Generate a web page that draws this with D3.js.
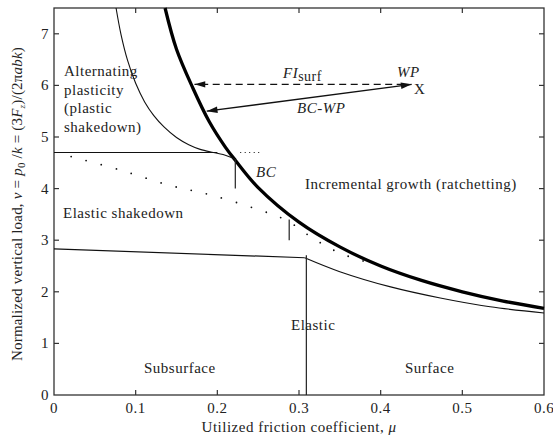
<!DOCTYPE html>
<html>
<head>
<meta charset="utf-8">
<script src="https://cdn.jsdelivr.net/npm/d3@7"></script>
<style>
  body { margin: 0; background: #fff; }
  svg text { font-family: "Liberation Serif", "DejaVu Serif", serif; fill: #222; letter-spacing: 0.5px; }
  .frame { fill: none; stroke: #333; stroke-width: 1.3; }
  .tick { stroke: #333; stroke-width: 1.2; }
</style>
</head>
<body>
<div id="chart"></div>
<script>
// axis ticks
const xTicks = [0, 0.1, 0.2, 0.3, 0.4, 0.5, 0.6];
const yTicks = [0, 1, 2, 3, 4, 5, 6, 7];

// thick curve: surface ratchetting limit (mu, v)
const ratchetLimit = [
    [0.136, 7.5], [0.15, 6.7], [0.17, 5.95], [0.19, 5.3], [0.21, 4.8],
    [0.222, 4.55], [0.25, 4.02], [0.3, 3.35], [0.35, 2.87], [0.4, 2.5],
    [0.45, 2.22], [0.5, 2.0], [0.55, 1.82], [0.6, 1.68]
];

// thin curve: alternating plasticity limit
const plasticLimit = [
    [0.076, 7.5], [0.082, 6.99], [0.09, 6.49], [0.1, 6.04], [0.111, 5.68],
    [0.122, 5.42], [0.135, 5.19], [0.15, 4.99], [0.165, 4.85], [0.179, 4.76],
    [0.195, 4.7], [0.207, 4.66], [0.222, 4.57]
];

// elastic limit: straight subsurface part, then surface curve
const elasticFlat = [[0, 2.83], [0.307, 2.66]];
const elasticCurve = [
    [0.307, 2.66], [0.35, 2.39], [0.411, 2.1], [0.473, 1.88],
    [0.534, 1.71], [0.6, 1.59]
];

// elastic shakedown limit (dotted)
const shakedownDots = [
    [0.021, 4.62], [0.081, 4.36], [0.14, 4.07], [0.191, 3.88], [0.247, 3.61],
    [0.284, 3.39], [0.317, 3.04], [0.35, 2.75], [0.387, 2.56]
];

// horizontal subsurface plastic shakedown line
const plasticLevel = [[0, 4.7], [0.2, 4.7]];
const plasticLevelDots = [[0.228, 4.7], [0.255, 4.7]];

// vertical markers: mu, from v, to v
const markers = [
    [0.222, 4.0, 4.57],
    [0.288, 3.0, 3.4],
    [0.309, 0, 2.71]
];

// working point and arrows
const workPoint = [0.438, 6.02];
const fiSurfEnd = [0.172, 6.02];
const bcWpEnd = [0.187, 5.5];

const W = 553, H = 439;
const margin = { top: 8, right: 9, bottom: 44, left: 54 };

const x = d3.scaleLinear().domain([0, 0.6]).range([margin.left, W - margin.right]);
const y = d3.scaleLinear().domain([0, 7.5]).range([H - margin.bottom, margin.top]);

const svg = d3.select("#chart").append("svg")
    .attr("width", W)
    .attr("height", H);

svg.append("defs").append("marker")
    .attr("id", "arrow")
    .attr("viewBox", "0 -5 12 10")
    .attr("refX", 12)
    .attr("refY", 0)
    .attr("markerUnits", "userSpaceOnUse")
    .attr("markerWidth", 13)
    .attr("markerHeight", 9)
    .attr("orient", "auto-start-reverse")
    .append("path")
    .attr("d", "M0,-3.6L12,0L0,3.6Z")
    .attr("fill", "#111");

const line = d3.line().x(d => x(d[0])).y(d => y(d[1]));
const smooth = d3.line().x(d => x(d[0])).y(d => y(d[1])).curve(d3.curveCatmullRom.alpha(0.5));

// frame
svg.append("rect")
    .attr("class", "frame")
    .attr("x", x(0)).attr("y", y(7.5))
    .attr("width", x(0.6) - x(0)).attr("height", y(0) - y(7.5));

// inward ticks on all four sides
const tl = 5;
xTicks.slice(1, -1).forEach(t => {
    svg.append("line").attr("class", "tick")
        .attr("x1", x(t)).attr("x2", x(t)).attr("y1", y(0)).attr("y2", y(0) - tl);
    svg.append("line").attr("class", "tick")
        .attr("x1", x(t)).attr("x2", x(t)).attr("y1", y(7.5)).attr("y2", y(7.5) + tl);
});
yTicks.slice(1).forEach(t => {
    svg.append("line").attr("class", "tick")
        .attr("x1", x(0)).attr("x2", x(0) + tl).attr("y1", y(t)).attr("y2", y(t));
    svg.append("line").attr("class", "tick")
        .attr("x1", x(0.6)).attr("x2", x(0.6) - tl).attr("y1", y(t)).attr("y2", y(t));
});

// tick labels
svg.append("g").selectAll("text")
    .data(xTicks)
    .enter().append("text")
    .attr("x", d => x(d))
    .attr("y", y(0) + 18)
    .attr("text-anchor", "middle")
    .attr("font-size", 15)
    .text(d => d === 0 ? "0" : d3.format(".1f")(d));

svg.append("g").selectAll("text")
    .data(yTicks)
    .enter().append("text")
    .attr("x", x(0) - 5)
    .attr("y", d => y(d) + 5)
    .attr("text-anchor", "end")
    .attr("font-size", 15)
    .text(d => d);

// curves
svg.append("path").datum(ratchetLimit)
    .attr("d", smooth).attr("fill", "none").attr("stroke", "#000").attr("stroke-width", 3.3);

svg.append("path").datum(plasticLimit)
    .attr("d", smooth).attr("fill", "none").attr("stroke", "#111").attr("stroke-width", 1.1);

svg.append("path").datum(elasticFlat)
    .attr("d", line).attr("fill", "none").attr("stroke", "#111").attr("stroke-width", 1.2);

svg.append("path").datum(elasticCurve)
    .attr("d", smooth).attr("fill", "none").attr("stroke", "#111").attr("stroke-width", 1.1);

svg.append("path").datum(shakedownDots)
    .attr("d", smooth).attr("fill", "none").attr("stroke", "#111")
    .attr("stroke-width", 1.8).attr("stroke-linecap", "round")
    .attr("stroke-dasharray", "0,15.6");

svg.append("path").datum(plasticLevel)
    .attr("d", line).attr("fill", "none").attr("stroke", "#111").attr("stroke-width", 1.2);

svg.append("path").datum(plasticLevelDots)
    .attr("d", line).attr("fill", "none").attr("stroke", "#111")
    .attr("stroke-width", 1.2).attr("stroke-dasharray", "1,3.5");

svg.append("g").selectAll("line")
    .data(markers)
    .enter().append("line")
    .attr("x1", d => x(d[0])).attr("x2", d => x(d[0]))
    .attr("y1", d => y(d[1])).attr("y2", d => y(d[2]))
    .attr("stroke", "#222").attr("stroke-width", 1.2);

// arrows
svg.append("line")
    .attr("x1", x(workPoint[0]) - 8).attr("y1", y(fiSurfEnd[1]))
    .attr("x2", x(fiSurfEnd[0])).attr("y2", y(fiSurfEnd[1]))
    .attr("stroke", "#111").attr("stroke-width", 1.3)
    .attr("stroke-dasharray", "7,4.5")
    .attr("marker-end", "url(#arrow)");

svg.append("line")
    .attr("x1", x(workPoint[0])).attr("y1", y(workPoint[1]))
    .attr("x2", x(bcWpEnd[0])).attr("y2", y(bcWpEnd[1]))
    .attr("stroke", "#111").attr("stroke-width", 1.3)
    .attr("marker-start", "url(#arrow)")
    .attr("marker-end", "url(#arrow)");

// labels
function label(txt, lx, ly, opts = {}) {
    const t = svg.append("text")
        .attr("x", lx).attr("y", ly)
        .attr("font-size", opts.size || 15)
        .attr("text-anchor", opts.anchor || "start");
    if (opts.italic) t.attr("font-style", "italic");
    t.text(txt);
    return t;
}

["Alternating", "plasticity", "(plastic", "shakedown)"].forEach((s, i) => {
    label(s, 64, 76 + i * 18.5);
});
label("Elastic shakedown", 63, 218);
label("Incremental growth (ratchetting)", 305, 189);
label("BC", 256, 177, { italic: true });
label("Elastic", 291, 330);
label("Subsurface", 144, 373);
label("Surface", 405, 373);
label("BC-WP", 297, 113, { italic: true });
label("WP", 397, 77, { italic: true });
label("X", 414, 94);

const fi = svg.append("text").attr("x", 283).attr("y", 78).attr("font-size", 15);
fi.append("tspan").attr("font-style", "italic").text("FI");
fi.append("tspan").attr("dy", 2.5).attr("font-size", 14).text("surf");

// axis titles
const xt = svg.append("text")
    .attr("x", (x(0) + x(0.6)) / 2)
    .attr("y", 432)
    .attr("text-anchor", "middle")
    .attr("font-size", 15);
xt.append("tspan").text("Utilized friction coefficient, ");
xt.append("tspan").attr("font-style", "italic").text("μ");

const yt = svg.append("text")
    .attr("transform", "translate(22,204) rotate(-90)")
    .attr("text-anchor", "middle")
    .attr("font-size", 15)
    .style("letter-spacing", "0.2px");
yt.append("tspan").text("Normalized vertical load, ");
yt.append("tspan").attr("font-style", "italic").text("ν");
yt.append("tspan").text(" = ");
yt.append("tspan").attr("font-style", "italic").text("p");
yt.append("tspan").attr("dy", 3).attr("font-size", 11).text("0");
yt.append("tspan").attr("dy", -3).text(" /");
yt.append("tspan").attr("font-style", "italic").text("k");
yt.append("tspan").text(" = (3");
yt.append("tspan").attr("font-style", "italic").text("F");
yt.append("tspan").attr("dy", 3).attr("font-size", 9).attr("font-style", "italic").text("z");
yt.append("tspan").attr("dy", -3).text(")/(2π");
yt.append("tspan").attr("font-style", "italic").text("abk");
yt.append("tspan").text(")");
</script>
</body>
</html>
